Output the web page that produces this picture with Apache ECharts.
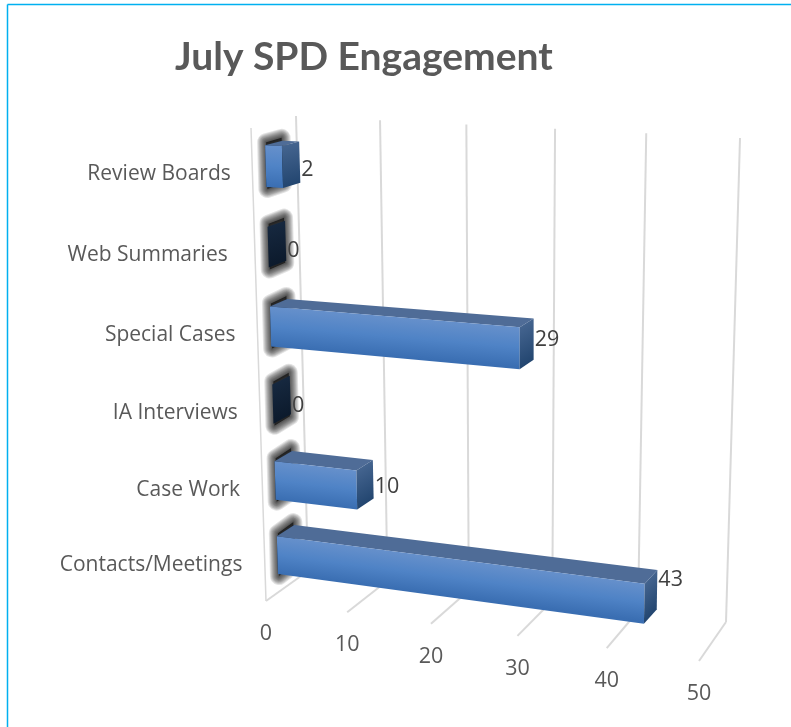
<!DOCTYPE html>
<html>
<head>
<meta charset="utf-8">
<title>July SPD Engagement</title>
<script src="https://cdn.jsdelivr.net/npm/echarts@6/dist/echarts.min.js"></script>
<style>
  html, body { margin: 0; padding: 0; background: #fff; }
  #chart { width: 791px; height: 727px; }
</style>
</head>
<body>
<div id="chart"></div>
<script>
// data, bottom row first
const categories = ['Contacts/Meetings', 'Case Work', 'IA Interviews', 'Special Cases', 'Web Summaries ', 'Review Boards'];
const engagement = [43, 10, 0, 29, 0, 2];
const valueTicks = [0, 10, 20, 30, 40, 50];

// label offsets seen in the original, per row (bottom row first)
const valueLabelDy = [-10, 7.5, 11, 1, 10, 7.5];

const FONT = '"Open Sans", "Noto Sans", sans-serif';
const BAR_RATIO = 0.51;
const SHADOW_WIDTHS = [18, 16, 14, 12, 10, 8, 6, 4, 2];

// maps the unit square to a quad: corners are (0,0) (1,0) (1,1) (0,1)
function quadMap(p) {
  const [x0, y0] = p[0], [x1, y1] = p[1], [x2, y2] = p[2], [x3, y3] = p[3];
  const dx1 = x1 - x2, dx2 = x3 - x2, sx = x0 - x1 + x2 - x3;
  const dy1 = y1 - y2, dy2 = y3 - y2, sy = y0 - y1 + y2 - y3;
  const det = dx1 * dy2 - dx2 * dy1;
  const g = (sx * dy2 - dx2 * sy) / det;
  const h = (dx1 * sy - sx * dy1) / det;
  const a = x1 - x0 + g * x1, b = x3 - x0 + h * x3;
  const d = y1 - y0 + g * y1, e = y3 - y0 + h * y3;
  return (u, v) => {
    const w = g * u + h * v + 1;
    return [(a * u + b * v + x0) / w, (d * u + e * v + y0) / w];
  };
}

// the perspective planes of the 3D look
const wallPlane = quadMap([[308, 571], [726, 622], [740, 138], [296, 116]]);
const barFront = quadMap([[278.5, 592], [708, 652], [722, 147], [264.5, 125]]);
const barBack = quadMap([[296, 580], [720, 637], [732, 141], [282, 121]]);

// front edge of the floor, spacing opens up slightly to the right
function floorFront(u) {
  const t = u / (u + (1 - u) * 1.083);
  return [266 + 433 * t, 601 + 60 * t];
}

// unit position inside the hidden grid, from the axis scales
function unit(params, pt) {
  const c = params.coordSys;
  return [(pt[0] - c.x) / c.width, 1 - (pt[1] - c.y) / c.height];
}

function renderGrid(params, api) {
  const v = api.value(0);
  const u = unit(params, api.coord([v, 0]))[0];
  const lineStyle = { stroke: '#d9d9d9', lineWidth: 2, fill: null };
  const base = wallPlane(u, 0), top = wallPlane(u, 1), front = floorFront(u);
  const children = [
    { type: 'line', shape: { x1: base[0], y1: base[1], x2: top[0], y2: top[1] }, style: lineStyle },
    { type: 'line', shape: { x1: front[0], y1: front[1], x2: base[0], y2: base[1] }, style: lineStyle },
    {
      type: 'text',
      style: {
        text: String(v), x: front[0], y: front[1] + 33, align: 'center', verticalAlign: 'middle',
        textAlign: 'center', textVerticalAlign: 'middle',
        font: '21.5px ' + FONT, fill: '#595959'
      }
    }
  ];
  if (params.dataIndex === 0) {
    // front edge of the side wall
    children.push({ type: 'line', shape: { x1: 251, y1: 128, x2: front[0], y2: front[1] }, style: { stroke: '#d9d9d9', lineWidth: 1.5 } });
  }
  return { type: 'group', children };
}

// gradient across the face, following the slant of the bar
function faceGradient(a, b, c, stops) {
  const dx = b[0] - a[0], dy = b[1] - a[1];
  const len = Math.hypot(dx, dy) || 1;
  const nx = -dy / len, ny = dx / len;
  const h = (c[0] - a[0]) * nx + (c[1] - a[1]) * ny;
  return {
    type: 'linear', global: true, x: a[0], y: a[1], x2: a[0] + nx * h, y2: a[1] + ny * h,
    colorStops: stops.map((color, i) => ({ offset: i / (stops.length - 1), color }))
  };
}

function poly(points, style) {
  return { type: 'polygon', shape: { points }, style };
}

function renderBar(params, api) {
  const val = api.value(0), cat = api.value(1);
  const start = unit(params, api.coord([0, cat]));
  const end = unit(params, api.coord([val, cat]));
  const half = api.size([0, 1])[1] * BAR_RATIO / 2 / params.coordSys.height;
  const u0 = start[0], u1 = end[0], vT = start[1] + half, vB = start[1] - half;

  const flt = barFront(u0, vT), flb = barFront(u0, vB), blt = barBack(u0, vT), blb = barBack(u0, vB);
  const frt = barFront(u1, vT), frb = barFront(u1, vB), brt = barBack(u1, vT), brb = barBack(u1, vB);

  const children = [];
  // soft shadow round the end cap, stacked strokes, stretched a little up and down
  const halo = [[flt[0] + 1, flt[1] - 3], [blt[0] - 1, blt[1] - 3], [blb[0] - 1, blb[1] + 2], [flb[0] + 1, flb[1] + 2]];
  children.push(poly(halo, { fill: 'rgba(0,0,0,0.6)' }));
  SHADOW_WIDTHS.forEach(w => {
    children.push(poly(halo, { fill: null, stroke: 'rgba(0,0,0,0.11)', lineWidth: w, lineJoin: 'round' }));
  });
  // dark end cap
  children.push(poly([flt, blt, blb, flb], { fill: faceGradient(blt, flt, flb, ['#16283f', '#0c1a2c']) }));
  if (val > 0) {
    children.push(poly([flt, frt, brt, blt], { fill: '#4f6c97' }));
    children.push(poly([flt, frt, frb, flb], { fill: faceGradient(flt, frt, flb, ['#6690cb', '#4f83c6', '#3a6eb2']) }));
    children.push(poly([frt, brt, brb, frb], { fill: faceGradient(brt, frt, brb, ['#44648f', '#234670']) }));
  }
  // value label
  children.push({
    type: 'text',
    style: {
      text: String(val), x: Math.max(brt[0], brb[0]) + 1, y: (brt[1] + brb[1]) / 2 + valueLabelDy[cat],
      align: 'left', verticalAlign: 'middle', textAlign: 'left', textVerticalAlign: 'middle',
      font: '21.5px ' + FONT, fill: '#404040'
    }
  });
  // category label
  const mid = barFront(u0, start[1]);
  children.push({
    type: 'text',
    style: {
      text: categories[cat], x: mid[0] - 35, y: mid[1] + 7.5 + (5 - cat) * 0.5,
      align: 'right', verticalAlign: 'middle', textAlign: 'right', textVerticalAlign: 'middle',
      font: '21px ' + FONT, fill: '#595959'
    }
  });
  return { type: 'group', children };
}

const chart = echarts.init(document.getElementById('chart'), null, { renderer: 'canvas' });
chart.setOption({
  animation: false,
  backgroundColor: '#fff',
  title: {
    text: 'July SPD Engagement',
    left: 175, top: 38,
    padding: 0,
    textStyle: { fontFamily: 'Lato, "Open Sans", sans-serif', fontWeight: 'bold', fontSize: 39, color: '#595959' }
  },
  graphic: [
    { type: 'line', shape: { x1: 7.5, y1: 4.5, x2: 791, y2: 4.5 }, style: { stroke: '#00b0f0', lineWidth: 1.5 } },
    { type: 'line', shape: { x1: 7.5, y1: 4.5, x2: 7.5, y2: 727 }, style: { stroke: '#00b0f0', lineWidth: 1.5 } }
  ],
  // hidden grid only supplies the scales, the perspective is applied on top
  grid: { left: 0, right: 0, top: 0, bottom: 0 },
  xAxis: { type: 'value', min: 0, max: 50, interval: 10, show: false },
  yAxis: { type: 'category', data: categories, show: false },
  series: [
    {
      type: 'custom', coordinateSystem: 'cartesian2d', silent: true, clip: false, z: 1,
      encode: { x: 0, y: 1 },
      data: valueTicks.map(t => [t, 0]),
      renderItem: renderGrid
    },
    {
      type: 'custom', coordinateSystem: 'cartesian2d', silent: true, clip: false, z: 2,
      encode: { x: 0, y: 1 },
      data: engagement.map((v, i) => [v, i]),
      renderItem: renderBar
    }
  ]
});
</script>
</body>
</html>
